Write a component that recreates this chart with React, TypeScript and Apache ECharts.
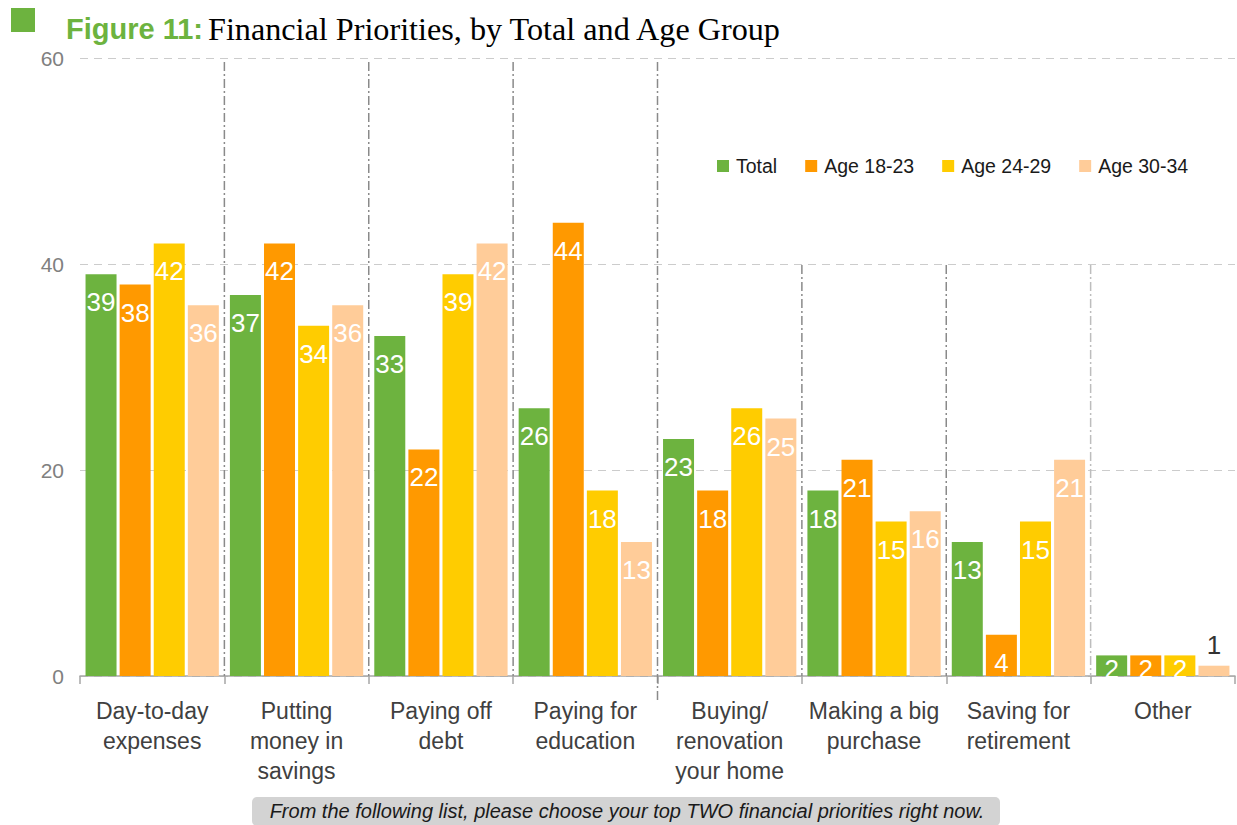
import React, { useEffect, useRef } from "react";
import * as echarts from "echarts";

const categories = [
  "Day-to-day\nexpenses",
  "Putting\nmoney in\nsavings",
  "Paying off\ndebt",
  "Paying for\neducation",
  "Buying/\nrenovation\nyour home",
  "Making a big\npurchase",
  "Saving for\nretirement",
  "Other",
];
const seriesNames = ["Total", "Age 18-23", "Age 24-29", "Age 30-34"];
const seriesColors = ["#6DB33F", "#FF9900", "#FFCC00", "#FFCC99"];
const totalValues = [39, 37, 33, 26, 23, 18, 13, 2];
const age1823Values = [38, 42, 22, 44, 18, 21, 4, 2];
const age2429Values = [42, 34, 39, 18, 26, 15, 15, 2];
const age3034Values = [36, 36, 42, 13, 25, 16, 21, 1];
const yTicks = { min: 0, max: 60, interval: 20 };

const SANS = "'Liberation Sans', Arial, Helvetica, sans-serif";
const SERIF = "'Liberation Serif', 'Times New Roman', serif";

export default function App() {
  const ref = useRef<HTMLDivElement>(null);
  useEffect(() => {
    if (!ref.current) return;
    const chart = echarts.init(ref.current, null, { renderer: "svg" });
    const W = 1237;
    const gridLeft = 80;
    const gridRight = 2;
    const gridTop = 58;
    const gridBottom = 149;
    const band = (W - gridLeft - gridRight) / categories.length;
    const axisY = 825 - gridBottom;

    const allValues = [totalValues, age1823Values, age2429Values, age3034Values];

    const buildData = (vals: number[]) =>
      vals.map((v) => {
        if (v <= 1) {
          return { value: v, label: { position: "top", distance: 8, color: "#333333" } };
        }
        if (v <= 2) {
          return { value: v, label: { position: "inside", offset: [0, 3] } };
        }
        return v;
      });

    const series = seriesNames.map((name, i) => ({
      name,
      type: "bar",
      data: buildData(allValues[i]),
      itemStyle: { color: seriesColors[i] },
      barWidth: 31,
      barGap: "10%",
      label: {
        show: true,
        position: "insideTop",
        distance: 15,
        color: "#ffffff",
        fontSize: 26,
        fontFamily: SANS,
      },
    }));

    const sepDash = [9, 3, 2, 3];
    const separators: any[] = [];
    for (let k = 1; k < categories.length; k++) {
      const x = gridLeft + band * k;
      let y1 = 62;
      let y2 = axisY;
      let color = "#8a8a8a";
      if (k === 4) y2 = axisY + 24;
      if (k >= 5) y1 = 265;
      if (k === 7) color = "#bdbdbd";
      separators.push({
        type: "line",
        shape: { x1: x, y1, x2: x, y2 },
        style: { stroke: color, lineWidth: 1.5, lineDash: sepDash },
        z: 10,
      });
    }

    chart.setOption({
      animation: false,
      backgroundColor: "#ffffff",
      title: {
        text: "{a|Figure 11:} {b|Financial Priorities, by Total and Age Group}",
        left: 61,
        top: 8,
        textStyle: {
          fontWeight: "normal",
          rich: {
            a: { color: "#6DB33F", fontWeight: "bold", fontSize: 29, fontFamily: SANS },
            b: { color: "#000000", fontWeight: "normal", fontSize: 32.2, fontFamily: SERIF },
          },
        },
      },
      legend: {
        data: seriesNames,
        left: 712,
        top: 151,
        icon: "rect",
        itemWidth: 12,
        itemHeight: 12,
        itemGap: 28,
        textStyle: { fontSize: 19.5, color: "#1a1a1a", fontFamily: SANS, padding: [0, 0, 0, 2] },
      },
      grid: { left: gridLeft, right: gridRight, top: gridTop, bottom: gridBottom },
      xAxis: {
        type: "category",
        data: categories,
        axisLine: { show: true, lineStyle: { color: "#a6a6a6", width: 1.5 } },
        axisTick: { show: true, interval: 0, length: 8, lineStyle: { color: "#a6a6a6", width: 1.5 } },
        axisLabel: {
          interval: 0,
          color: "#404040",
          fontSize: 23,
          lineHeight: 30,
          margin: 20,
          fontFamily: SANS,
        },
      },
      yAxis: {
        type: "value",
        min: yTicks.min,
        max: yTicks.max,
        interval: yTicks.interval,
        axisLine: { show: false },
        axisTick: { show: false },
        axisLabel: { color: "#808080", fontSize: 21, margin: 16, fontFamily: SANS },
        splitLine: { show: true, lineStyle: { color: "#cccccc", type: [8, 6], width: 1.2 } },
      },
      series,
      graphic: [
        {
          type: "rect",
          shape: { x: 11, y: 8, width: 24, height: 24 },
          style: { fill: "#6DB33F" },
        },
        ...separators,
        {
          type: "rect",
          shape: { x: 252, y: 797, width: 748, height: 29, r: 5 },
          style: { fill: "#d3d3d3" },
        },
        {
          type: "text",
          x: 627,
          y: 811,
          style: {
            text: "From the following list, please choose your top TWO financial priorities right now.",
            fontSize: 20,
            fontStyle: "italic",
            fontFamily: SANS,
            fill: "#1a1a1a",
            textAlign: "center",
            textVerticalAlign: "middle",
          },
        },
      ],
    });
    return () => chart.dispose();
  }, []);
  return (
    <div
      ref={ref}
      style={{ position: "absolute", left: 0, top: 0, width: 1237, height: 825 }}
    />
  );
}
